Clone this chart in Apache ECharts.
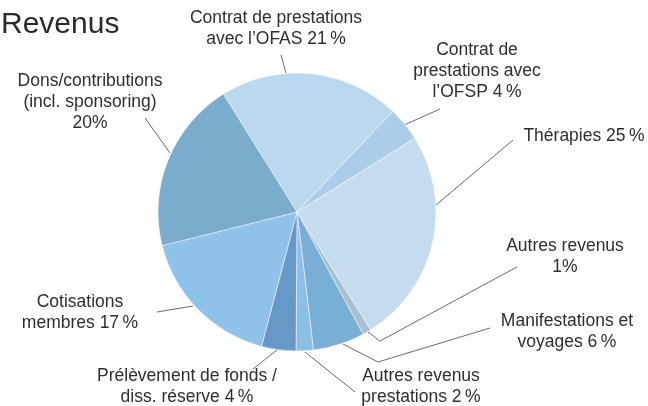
<!DOCTYPE html>
<html lang="fr">
<head>
    <meta charset="UTF-8">
    <title>Revenus</title>
    <script src="https://cdn.jsdelivr.net/npm/echarts@6/dist/echarts.min.js"></script>
    <style>
        html, body { margin: 0; padding: 0; background: #fff; }
        #main { width: 648px; height: 406px; }
    </style>
</head>
<body>
<div id="main"></div>
<script>
    // données du graphique (sens horaire, depuis le haut)
    var categories = [
        'Contrat de prestations avec l’OFAS',
        'Contrat de prestations avec l’OFSP',
        'Thérapies',
        'Autres revenus',
        'Manifestations et voyages',
        'Autres revenus prestations',
        'Prélèvement de fonds / diss. réserve',
        'Cotisations membres',
        'Dons/contributions (incl. sponsoring)'
    ];
    var values = [21, 4, 25, 1, 6, 2, 4, 17, 20];
    var labelTexts = [
        'Contrat de prestations\navec l’OFAS 21\u2009%',
        'Contrat de\nprestations avec\nl’OFSP 4\u2009%',
        'Thérapies 25\u2009%',
        'Autres revenus\n1%',
        'Manifestations et\nvoyages 6\u2009%',
        'Autres revenus\nprestations 2\u2009%',
        'Prélèvement de fonds /\ndiss. réserve 4\u2009%',
        'Cotisations\nmembres 17\u2009%',
        'Dons/contributions\n(incl. sponsoring)\n20%'
    ];
    var colors = ['#bbd9ee', '#abcdea', '#c5dbf0', '#a9bfd3', '#79aed7',
                  '#8bbfe6', '#6698c8', '#8fc2e8', '#7aaccb'];

    // position des étiquettes et des traits de rappel
    var labelPos = [
        {x: 276, y: 29, align: 'center'},
        {x: 477, y: 71, align: 'center'},
        {x: 584, y: 136, align: 'center'},
        {x: 565, y: 257, align: 'center'},
        {x: 567, y: 332, align: 'center'},
        {x: 421, y: 387, align: 'center'},
        {x: 187, y: 387, align: 'center'},
        {x: 80, y: 313, align: 'center'},
        {x: 90, y: 102, align: 'center'}
    ];
    var guides = [
        [[286, 73], [281, 55]],
        [[404, 125], [440, 109]],
        [[436, 205], [513, 140]],
        [[368, 332], [380, 341], [517, 267]],
        [[343, 344], [378, 362], [490, 328]],
        [[305, 352], [355, 392]],
        [[277, 350], [253, 369]],
        [[157, 312], [193, 306]],
        [[170, 153], [145, 118]]
    ];

    var myChart = echarts.init(document.getElementById('main'));

    var option = {
        animation: false,
        title: {
            text: 'Revenus',
            left: -4,
            top: 5,
            textStyle: {
                fontFamily: 'Liberation Sans',
                fontSize: 30,
                fontWeight: 'normal',
                color: '#2a2a2a'
            }
        },
        series: [
            {
                type: 'pie',
                center: [297, 212],
                radius: 139,
                startAngle: 122,
                clockwise: true,
                avoidLabelOverlap: false,
                itemStyle: {
                    borderColor: '#fff',
                    borderWidth: 0.5
                },
                label: {
                    show: true,
                    position: 'outside',
                    fontFamily: 'Liberation Sans',
                    fontSize: 17.5,
                    lineHeight: 21,
                    color: '#2e2e2e',
                    formatter: function (p) {
                        return labelTexts[p.dataIndex];
                    }
                },
                labelLine: {
                    show: true,
                    lineStyle: {color: '#444', width: 0.8}
                },
                labelLayout: function (p) {
                    var pos = labelPos[p.dataIndex];
                    return {
                        x: pos.x,
                        y: pos.y,
                        align: pos.align,
                        verticalAlign: 'middle',
                        labelLinePoints: guides[p.dataIndex]
                    };
                },
                emphasis: {disabled: true},
                data: categories.map(function (c, i) {
                    return {name: c, value: values[i], itemStyle: {color: colors[i]}};
                })
            }
        ]
    };

    myChart.setOption(option);
</script>
</body>
</html>
